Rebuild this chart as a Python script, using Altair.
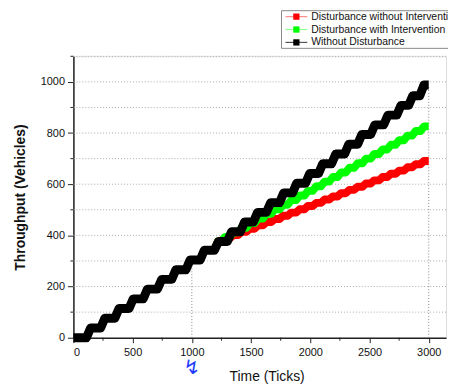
import altair as alt
import pandas as pd

# ---- data ----
black_rise_t = [110, 230, 350, 470, 590, 710, 830, 950, 1070, 1190, 1300, 1410, 1520,
                1630, 1740, 1850, 1960, 2070, 2180, 2290, 2400, 2510, 2620, 2730, 2830, 2925]
black_level = [38, 76, 114, 152, 190, 228, 266, 304, 342, 376, 414, 452, 490,
               528, 566, 604, 642, 680, 718, 756, 794, 832, 870, 908, 946, 988]

branch_start = (1190, 342)
green_rise_t = [1190, 1250, 1320, 1390, 1460, 1530, 1600, 1670, 1740, 1810, 1880, 1950, 2020,
                2090, 2160, 2230, 2300, 2370, 2440, 2510, 2580, 2650, 2720, 2790, 2860, 2930]
green_level = [376, 394, 412, 430, 448, 466, 484, 502, 520, 538, 556, 574, 592,
               610, 628, 646, 664, 682, 700, 718, 736, 754, 772, 790, 808, 826]
red_rise_t = green_rise_t
red_level = [376, 389, 401, 414, 426, 439, 452, 464, 477, 489, 502, 515, 527,
             540, 552, 565, 578, 590, 603, 615, 628, 641, 653, 666, 678, 691]

series_names = ["Disturbance without Intervention", "Disturbance with Intervention", "Without Disturbance"]
series_colors = ["#ff0000", "#00ff00", "#000000"]
legend_line_colors = ["#ff8c8c", "#8cff8c", "#555555"]

x_ticks = [0, 500, 1000, 1500, 2000, 2500, 3000]
x_minor = [250, 750, 1250, 1750, 2250, 2750]
y_ticks = [0, 200, 400, 600, 800, 1000]
y_minor = [100, 300, 500, 700, 900, 1100]
grid_y = [100, 200, 300, 400, 500, 600, 700, 800, 900, 1000, 1100]
drop_t = [1000, 3000]
drop_v = [304, 988]
END_T = 3000

W, H = 376, 284
X_MAX, Y_MAX = 3146, 1100
FONT = "Liberation Sans"


def staircase(start, rise_t, levels, ramp, end_t):
    pts = [start]
    cur = start[1]
    for t, lv in zip(rise_t, levels):
        pts.append((t, cur))
        pts.append((t + ramp, lv))
        cur = lv
    pts.append((end_t, cur))
    return pd.DataFrame(pts, columns=["t", "v"])


df_black = staircase((0, 0), black_rise_t, black_level, 35, END_T)
df_green = staircase(branch_start, green_rise_t, green_level, 30, END_T)
df_red = staircase(branch_start, red_rise_t, red_level, 30, END_T)

xscale = alt.Scale(domain=[0, X_MAX], nice=False, zero=False)
yscale = alt.Scale(domain=[0, Y_MAX], nice=False, zero=False)

xaxis = alt.Axis(values=x_ticks, format="d", labelFont=FONT, labelFontSize=11, labelColor="#111",
                 tickSize=5, tickColor="#222", domainColor="#222", domainWidth=1.5, tickWidth=1,
                 grid=False, labelPadding=4, title="Time (Ticks)", titleFont=FONT, titleFontSize=14,
                 titleFontWeight="normal", titleColor="#111", titleX=195, titleY=39,
                 titleAlign="center", titleBaseline="middle")
yaxis = alt.Axis(values=y_ticks, format="d", labelFont=FONT, labelFontSize=11, labelColor="#111",
                 tickSize=6, tickColor="#222", domainColor="#222", domainWidth=1.5, tickWidth=1,
                 grid=False, labelPadding=3, title="Throughput (Vehicles)", titleFont=FONT,
                 titleFontSize=14, titleFontWeight="bold", titleColor="#111", titleX=-53, titleY=142,
                 titleAlign="center", titleBaseline="middle", titleAngle=-90)


def X(field):
    return alt.X(field, type="quantitative", scale=xscale, axis=xaxis)


def Y(field):
    return alt.Y(field, type="quantitative", scale=yscale, axis=yaxis)


grid = alt.Chart(pd.DataFrame({"v": grid_y})).mark_rule(
    color="#aaaaaa", strokeDash=[1, 2], strokeWidth=1).encode(y=Y("v"))

drops = alt.Chart(pd.DataFrame({"t": drop_t, "lo": [0, 0], "hi": drop_v})).mark_rule(
    color="#888888", strokeDash=[1, 2], strokeWidth=1).encode(x=X("t"), y=Y("lo"), y2="hi")


def line(df, color, width):
    return alt.Chart(df).mark_line(color=color, strokeWidth=width, strokeJoin="round",
                                   strokeCap="butt").encode(x=X("t"), y=Y("v"))


red = line(df_red, series_colors[0], 8)
green = line(df_green, series_colors[1], 8)
black = line(df_black, series_colors[2], 9)

ytk = alt.Chart(pd.DataFrame({"v": y_minor})).mark_rule(color="#222", strokeWidth=1).encode(
    y=Y("v"), x=alt.value(-3), x2=alt.value(0))
xtk = alt.Chart(pd.DataFrame({"t": x_minor})).mark_rule(color="#222", strokeWidth=1).encode(
    x=X("t"), y=alt.value(H), y2=alt.value(H + 3))

one = pd.DataFrame({"a": [0]})
squiggle = alt.Chart(pd.DataFrame({"t": [1000]})).mark_text(
    text="↯", color="#1f3cff", fontSize=20, font="DejaVu Sans", baseline="middle").encode(
    x=X("t"), y=alt.value(H + 31))

legend_layers = [
    alt.Chart(one).mark_rect(fill="white", stroke="#888888", strokeWidth=1).encode(
        x=alt.value(210), x2=alt.value(400), y=alt.value(-46), y2=alt.value(-8))
]
row_y = [-40, -27, -14]
for name, c, lc, ry in zip(series_names, series_colors, legend_line_colors, row_y):
    legend_layers.append(alt.Chart(one).mark_rule(color=lc, strokeWidth=1.2).encode(
        x=alt.value(214), x2=alt.value(236), y=alt.value(ry)))
    legend_layers.append(alt.Chart(one).mark_point(shape="square", filled=True, color=c,
                                                   size=40, opacity=1).encode(
        x=alt.value(225), y=alt.value(ry)))
    legend_layers.append(alt.Chart(one).mark_text(align="left", baseline="middle", font=FONT,
                                                  fontSize=10.5, color="#111", text=name).encode(
        x=alt.value(240), y=alt.value(ry)))

chart = alt.layer(grid, drops, red, green, black, ytk, xtk, squiggle, *legend_layers).properties(
    width=W, height=H,
    autosize=alt.AutoSizeParams(type="none"),
    padding={"left": 66, "top": 47, "right": 2, "bottom": 48},
).configure_view(strokeWidth=0).configure(background="white")

chart.save("out.html", embed_options={"renderer": "svg", "actions": False})
